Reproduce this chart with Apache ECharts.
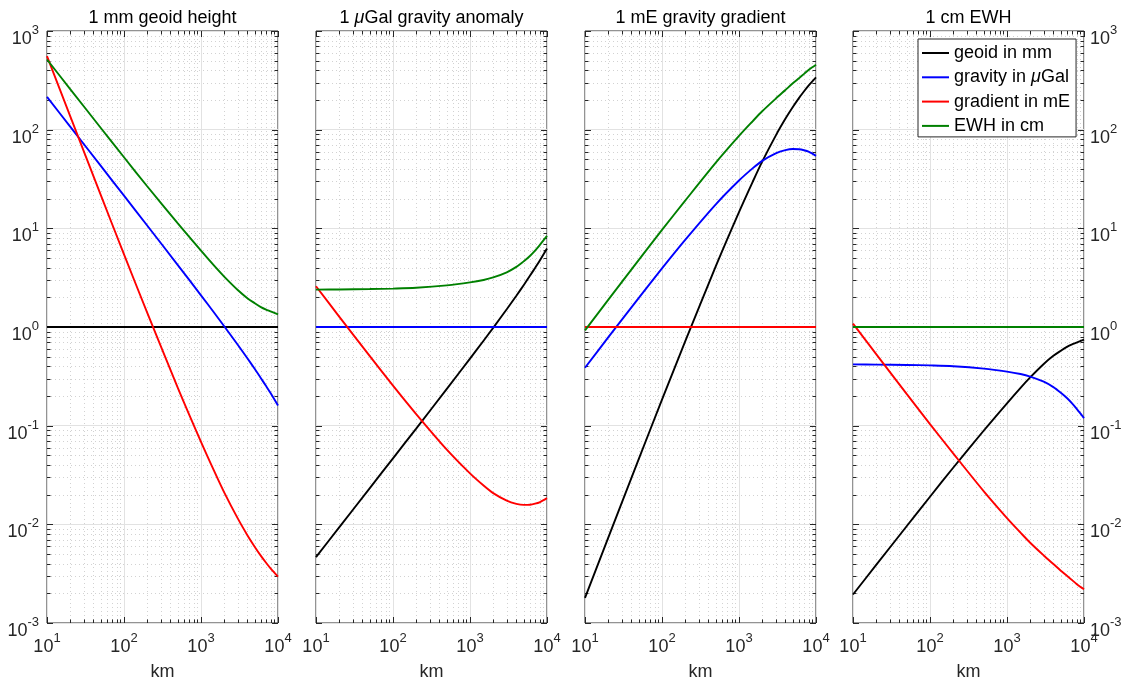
<!DOCTYPE html>
<html>
<head>
<meta charset="utf-8">
<script src="https://cdn.jsdelivr.net/npm/echarts@6/dist/echarts.min.js"></script>
<style>
  html, body { margin: 0; padding: 0; background: #ffffff; }
  #chart { width: 1129px; height: 686px; }
</style>
</head>
<body>
<div id="chart"></div>
<script>
// Spatial scale (km) at which every transfer ratio is sampled
const distanceKm = [10, 20, 50, 100, 200, 500, 1000, 1500, 2000, 3000, 4000, 5000, 6000, 7000, 8000, 10000];
// Reference quantity divided by itself
const unitRatio = [1, 1, 1, 1, 1, 1, 1, 1, 1, 1, 1, 1, 1, 1, 1, 1];

// Signal equivalent to 1 mm geoid height
const mmGeoidGravity  = [214.8, 107.4, 42.9, 21.42, 10.69, 4.24, 2.094, 1.378, 1.019, 0.661, 0.482, 0.375, 0.303, 0.252, 0.214, 0.160];
const mmGeoidGradient = [556, 137, 21.7, 5.45, 1.40, 0.242, 0.0686, 0.0340, 0.0211, 0.01148, 0.00777, 0.00590, 0.00479, 0.00408, 0.00358, 0.00295];
const mmGeoidEwh      = [514, 258, 104, 52.5, 26.7, 11.2, 5.93, 4.13, 3.24, 2.37, 1.96, 1.74, 1.59, 1.50, 1.44, 1.34];

// Signal equivalent to 1 µGal gravity anomaly
const uGalGeoid    = [0.00466, 0.00931, 0.0233, 0.0467, 0.0935, 0.236, 0.478, 0.726, 0.981, 1.513, 2.075, 2.667, 3.30, 3.97, 4.67, 6.25];
const uGalGradient = [2.589, 1.276, 0.506, 0.2544, 0.131, 0.0571, 0.0328, 0.0247, 0.0207, 0.01737, 0.01612, 0.01573, 0.01581, 0.01619, 0.01673, 0.01844];
const uGalEwh      = [2.393, 2.402, 2.424, 2.451, 2.498, 2.642, 2.832, 2.997, 3.180, 3.585, 4.066, 4.64, 5.25, 5.95, 6.73, 8.375];

// Signal equivalent to 1 mE gravity gradient
const mEGeoid   = [0.0018, 0.0073, 0.0461, 0.1835, 0.714, 4.13, 14.58, 29.4, 47.4, 87.1, 128.7, 169.5, 208.8, 245.1, 279.3, 339];
const mEGravity = [0.386, 0.784, 1.977, 3.93, 7.64, 17.52, 30.5, 40.5, 48.3, 57.6, 62.0, 63.6, 63.3, 61.8, 59.8, 54.2];
const mEEwh     = [0.924, 1.883, 4.79, 9.63, 19.07, 46.3, 86.4, 121.5, 153.6, 206.4, 252.3, 294.9, 331.9, 367.6, 402.2, 454.2];

// Signal equivalent to 1 cm equivalent water height
const cmEwhGeoid    = [0.001946, 0.003876, 0.00962, 0.01905, 0.03745, 0.0893, 0.1686, 0.2421, 0.3086, 0.422, 0.510, 0.575, 0.629, 0.667, 0.694, 0.746];
const cmEwhGravity  = [0.418, 0.416, 0.4125, 0.408, 0.4004, 0.3786, 0.3531, 0.3337, 0.3145, 0.2789, 0.2459, 0.2155, 0.1906, 0.168, 0.1486, 0.1194];
const cmEwhGradient = [1.082, 0.531, 0.2087, 0.1038, 0.0524, 0.0216, 0.01157, 0.00823, 0.00651, 0.00484, 0.00396, 0.00339, 0.00301, 0.00272, 0.00249, 0.0022];

const seriesNames  = ['geoid in mm', 'gravity in μGal', 'gradient in mE', 'EWH in cm'];
const seriesColors = ['#000000', '#0000ff', '#ff0000', '#008000'];
const panelTitles  = ['1 mm geoid height', '1 {i|μ}Gal gravity anomaly', '1 mE gravity gradient', '1 cm EWH'];
const panelCurves = [
  [unitRatio, mmGeoidGravity, mmGeoidGradient, mmGeoidEwh],
  [uGalGeoid, unitRatio, uGalGradient, uGalEwh],
  [mEGeoid, mEGravity, unitRatio, mEEwh],
  [cmEwhGeoid, cmEwhGravity, cmEwhGradient, unitRatio]
];
const xDecades = [10, 100, 1000, 10000];
const yDecades = [0.001, 0.01, 0.1, 1, 10, 100, 1000];

const FONT = '"Liberation Sans", Arial, Helvetica, sans-serif';
const AXIS_COLOR = '#262626';
const panelLeft = [47, 316, 585, 853];
const panelWidth = 231;
const panelTop = 31;
const panelHeight = 599;

function powLabel(v) {
  return '{b|10}{s|' + Math.round(Math.log10(v)) + '}';
}
const powRich = {
  b: { fontSize: 18, lineHeight: 24, verticalAlign: 'bottom', fontFamily: FONT, color: AXIS_COLOR },
  s: { fontSize: 13, lineHeight: 13, verticalAlign: 'top', fontFamily: FONT, color: AXIS_COLOR }
};

function minorValues(decades) {
  const out = [];
  for (let i = 0; i < decades.length - 1; i++) {
    for (let m = 2; m <= 9; m++) out.push(decades[i] * m);
  }
  return out;
}
const xMinor = minorValues(xDecades);
const yMinor = minorValues(yDecades);

// Dotted minor grid plus inward ticks on all four sides of an axes box
function frameRenderer(params, api) {
  const cs = params.coordSys;
  const l = cs.x, r = cs.x + cs.width, t = cs.y, b = cs.y + cs.height;
  const kids = [];
  const gridStyle = { stroke: '#d2d2d2', lineWidth: 1, lineDash: [1, 3] };
  const tickStyle = { stroke: AXIS_COLOR, lineWidth: 1 };
  const line = (x1, y1, x2, y2, style) => kids.push({ type: 'line', shape: { x1, y1, x2, y2 }, style, silent: true });
  xMinor.forEach(v => {
    const px = Math.round(api.coord([v, 1])[0]) + 0.5;
    line(px, t, px, b, gridStyle);
    line(px, b, px, b - 3.5, tickStyle);
    line(px, t, px, t + 3.5, tickStyle);
  });
  xDecades.forEach(v => {
    const px = Math.round(api.coord([v, 1])[0]) + 0.5;
    line(px, b, px, b - 6, tickStyle);
    line(px, t, px, t + 6, tickStyle);
  });
  yMinor.forEach(v => {
    const py = Math.round(api.coord([10, v])[1]) + 0.5;
    line(l, py, r, py, gridStyle);
    line(l, py, l + 3.5, py, tickStyle);
    line(r, py, r - 3.5, py, tickStyle);
  });
  yDecades.forEach(v => {
    const py = Math.round(api.coord([10, v])[1]) + 0.5;
    line(l, py, l + 6, py, tickStyle);
    line(r, py, r - 6, py, tickStyle);
  });
  return { type: 'group', children: kids };
}

const grids = [], xAxes = [], yAxes = [], titles = [], series = [];
for (let p = 0; p < 4; p++) {
  grids.push({
    left: panelLeft[p], top: panelTop, width: panelWidth, height: panelHeight,
    show: true, borderColor: AXIS_COLOR, borderWidth: 1, backgroundColor: 'transparent'
  });
  xAxes.push({
    type: 'log', logBase: 10, min: 10, max: 10000, gridIndex: p, splitNumber: 3,
    name: 'km', nameLocation: 'middle', nameGap: 40,
    nameTextStyle: { fontSize: 18, color: AXIS_COLOR, fontFamily: FONT },
    axisLine: { show: false }, axisTick: { show: false },
    splitLine: { show: true, lineStyle: { color: '#e2e2e2', width: 1 } },
    axisLabel: { show: true, margin: 9, formatter: powLabel, rich: powRich, showMinLabel: true, showMaxLabel: true }
  });
  const labelled = (p === 0 || p === 3);
  yAxes.push({
    type: 'log', logBase: 10, min: 0.001, max: 1000, gridIndex: p, splitNumber: 6,
    position: p === 3 ? 'right' : 'left',
    axisLine: { show: false }, axisTick: { show: false },
    splitLine: { show: true, lineStyle: { color: '#e2e2e2', width: 1 } },
    axisLabel: {
      show: labelled, margin: p === 0 ? 8 : 6, formatter: powLabel, rich: powRich,
      padding: [10, 0, 0, 0], showMinLabel: true, showMaxLabel: true
    }
  });
  titles.push({
    text: panelTitles[p], left: panelLeft[p] + panelWidth / 2, top: 9, textAlign: 'center', padding: 0,
    textStyle: {
      fontSize: 18, fontWeight: 'normal', color: '#000', fontFamily: FONT,
      rich: { i: { fontStyle: 'italic', fontSize: 18, color: '#000', fontFamily: FONT } }
    }
  });
  series.push({
    type: 'custom', xAxisIndex: p, yAxisIndex: p, z: 1, silent: true, clip: false,
    data: [[10, 1]], renderItem: frameRenderer
  });
  panelCurves[p].forEach((values, k) => {
    series.push({
      type: 'line', name: seriesNames[k], xAxisIndex: p, yAxisIndex: p, z: 3,
      color: seriesColors[k], symbol: 'none', smooth: 0.3,
      lineStyle: { width: 1.9, color: seriesColors[k] },
      data: distanceKm.map((d, j) => [d, values[j]])
    });
  });
}

const chart = echarts.init(document.getElementById('chart'), null, { renderer: 'canvas' });
chart.setOption({
  animation: false,
  backgroundColor: '#ffffff',
  title: titles,
  grid: grids,
  xAxis: xAxes,
  yAxis: yAxes,
  legend: {
    data: seriesNames, orient: 'vertical', left: 918, top: 39,
    padding: [5, 6, 2, 4], itemGap: 6.3, itemWidth: 27, itemHeight: 2, icon: 'rect',
    selectedMode: false,
    backgroundColor: '#ffffff', borderColor: AXIS_COLOR, borderWidth: 1, borderRadius: 0,
    formatter: name => name.replace('μ', '{i|μ}'),
    textStyle: {
      fontSize: 18, lineHeight: 18, color: '#000', fontFamily: FONT,
      rich: { i: { fontStyle: 'italic', fontSize: 18, lineHeight: 18, color: '#000', fontFamily: FONT } }
    }
  },
  series: series
});
</script>
</body>
</html>
